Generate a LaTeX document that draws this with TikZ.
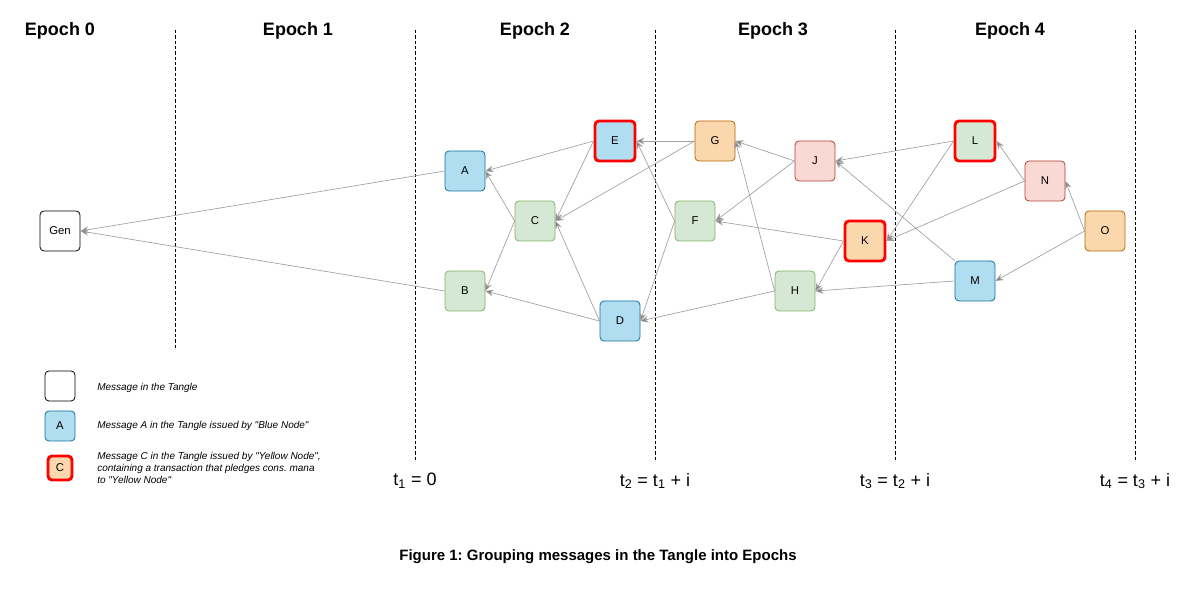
\documentclass[tikz,border=0pt]{standalone}
\usepackage{fontspec}
\setmainfont{Liberation Sans}
\usetikzlibrary{arrows.meta}
\frenchspacing
\definecolor{bluefill}{HTML}{B1DDF0}
\definecolor{bluedraw}{HTML}{10739E}
\definecolor{greenfill}{HTML}{D5E8D4}
\definecolor{greendraw}{HTML}{82B366}
\definecolor{orangefill}{HTML}{FAD7AC}
\definecolor{orangedraw}{HTML}{B46504}
\definecolor{pinkfill}{HTML}{FAD9D5}
\definecolor{pinkdraw}{HTML}{AE4132}
\definecolor{refgray}{HTML}{A0A0A0}
\begin{document}
\begin{tikzpicture}[x=0.75pt,y=-0.75pt,
    msg/.style={draw,rounded corners=3pt,minimum size=30pt,inner sep=0pt,
                line width=0.6pt,font=\fontsize{8.5}{10}\selectfont},
    bluemsg/.style={msg,fill=bluefill,draw=bluedraw},
    greenmsg/.style={msg,fill=greenfill,draw=greendraw},
    orangemsg/.style={msg,fill=orangefill,draw=orangedraw},
    pinkmsg/.style={msg,fill=pinkfill,draw=pinkdraw},
    pledge/.style={draw=red,line width=2.2pt},
    ref/.style={draw=refgray,line width=0.5pt,
                -{Stealth[length=6pt,width=5pt,fill=gray]}},
    epochline/.style={dashed,dash pattern=on 2.5pt off 1.5pt,line width=0.6pt},
    epoch/.style={font=\fontsize{13.5}{16}\selectfont\bfseries},
    tlabel/.style={font=\fontsize{13.5}{16}\selectfont},
    legend/.style={anchor=west,align=left,inner sep=0pt,
                   font=\fontsize{7.5}{9}\selectfont\itshape}]
\useasboundingbox (0,0) rectangle (1196,591);

% epochs
\node[epoch] (ep0) at (60,31) {Epoch 0};
\node[epoch] (ep1) at (298,31) {Epoch 1};
\node[epoch] (ep2) at (535,31) {Epoch 2};
\node[epoch] (ep3) at (773,31) {Epoch 3};
\node[epoch] (ep4) at (1010,31) {Epoch 4};

\draw[epochline] (175,30) -- (175,350);
\foreach \x in {415,655,895,1135}
    \draw[epochline] (\x,30) -- (\x,460);

\node[tlabel] (t1) at (415,481) {t\textsubscript{1} = 0};
\node[tlabel] (t2) at (655,481) {t\textsubscript{2} = t\textsubscript{1} + i};
\node[tlabel] (t3) at (895,481) {t\textsubscript{3} = t\textsubscript{2} + i};
\node[tlabel] (t4) at (1135,481) {t\textsubscript{4} = t\textsubscript{3} + i};

% messages
\node[msg,fill=white] (Gen) at (60,231) {Gen};
\node[bluemsg] (A) at (465,171) {A};
\node[greenmsg] (B) at (465,291) {B};
\node[greenmsg] (C) at (535,221) {C};
\node[bluemsg] (D) at (620,321) {D};
\node[bluemsg,pledge] (E) at (615,141) {E};
\node[greenmsg] (F) at (695,221) {F};
\node[orangemsg] (G) at (715,141) {G};
\node[greenmsg] (H) at (795,291) {H};
\node[pinkmsg] (J) at (815,161) {J};
\node[orangemsg,pledge] (K) at (865,241) {K};
\node[greenmsg,pledge] (L) at (975,141) {L};
\node[bluemsg] (M) at (975,281) {M};
\node[pinkmsg] (N) at (1045,181) {N};
\node[orangemsg] (O) at (1105,231) {O};

% references
\draw[ref] (A.west) -- (Gen.east);
\draw[ref] (B.west) -- (Gen.east);
\draw[ref] (C.west) -- (A.east);
\draw[ref] (C.west) -- (B.east);
\draw[ref] (E.west) -- (A.east);
\draw[ref] (E.west) -- (C.east);
\draw[ref] (D.west) -- (B.east);
\draw[ref] (D.west) -- (C.east);
\draw[ref] (G.west) -- (E.east);
\draw[ref] (G.west) -- (C.east);
\draw[ref] (F.west) -- (E.east);
\draw[ref] (F.west) -- (D.east);
\draw[ref] (J.west) -- (G.east);
\draw[ref] (J.west) -- (F.east);
\draw[ref] (H.west) -- (G.east);
\draw[ref] (H.west) -- (D.east);
\draw[ref] (K.west) -- (F.east);
\draw[ref] (K.west) -- (H.east);
\draw[ref] (L.west) -- (J.east);
\draw[ref] (L.west) -- (K.east);
\draw[ref] (M.north west) -- (J.east);
\draw[ref] (M.west) -- (H.east);
\draw[ref] (N.west) -- (L.east);
\draw[ref] (N.west) -- (K.east);
\draw[ref] (O.west) -- (N.east);
\draw[ref] (O.west) -- (M.east);

% legend
\node[msg,fill=white,minimum size=22.5pt] (lgmsg) at (60,386) {};
\node[bluemsg,minimum size=22.5pt] (lgblue) at (60,426) {A};
\node[orangemsg,pledge,minimum size=18pt] (lgpledge) at (60,468) {C};
\node[legend] (lgmsgtext) at (97,388) {Message in the Tangle};
\node[legend] (lgbluetext) at (97,426) {Message A in the Tangle issued by \textquotedbl Blue Node\textquotedbl};
\node[legend] (lgpledgetext) at (97,468) {Message C in the Tangle issued by \textquotedbl Yellow Node\textquotedbl,\\
    containing a transaction that pledges cons. mana\\to \textquotedbl Yellow Node\textquotedbl};

\node[font=\fontsize{11.25}{13}\selectfont\bfseries] (caption) at (598,557)
    {Figure 1: Grouping messages in the Tangle into Epochs};
\end{tikzpicture}
\end{document}
